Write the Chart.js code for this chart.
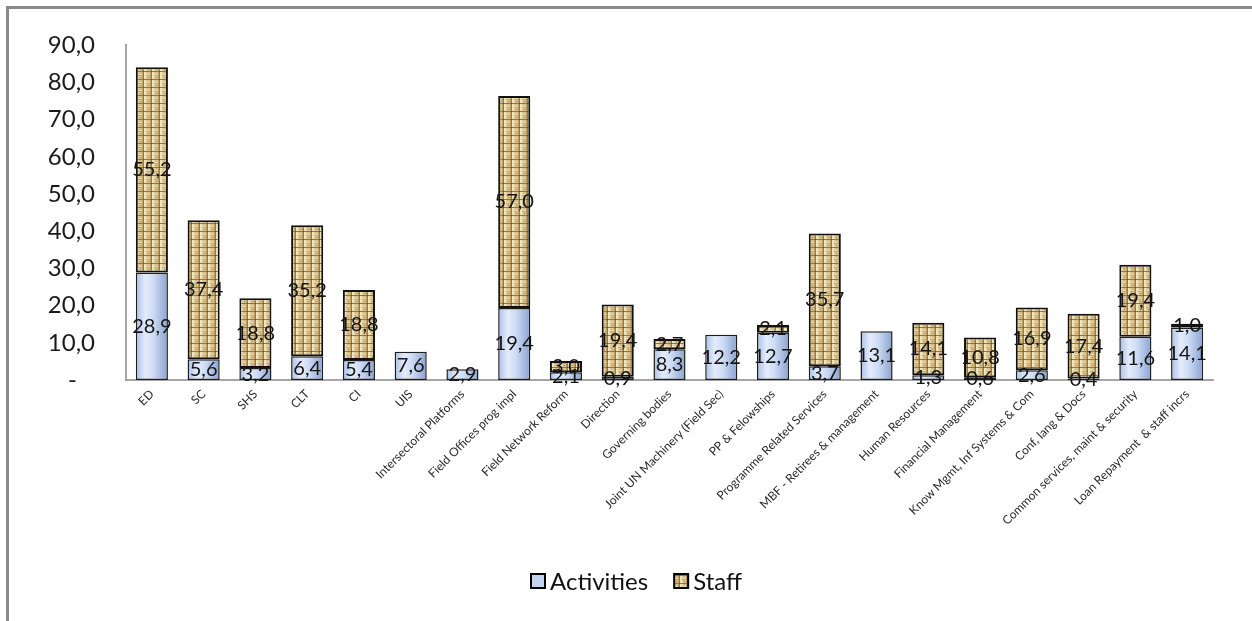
<!DOCTYPE html>
<html>
<head>
<meta charset="utf-8">
<script src="https://cdn.jsdelivr.net/npm/chart.js@4.4.1/dist/chart.umd.min.js"></script>
<style>
  html, body { margin: 0; padding: 0; background: #fff; }
  #wrap { position: relative; width: 1252px; height: 621px; }
</style>
</head>
<body>
<div id="wrap"><canvas id="chart" width="1252" height="621"></canvas></div>
<script>
// Budget by sector / service (millions), split into activities and staff costs
const categories = [
  'ED', 'SC', 'SHS', 'CLT', 'CI', 'UIS', 'Intersectoral Platforms',
  'Field Offices prog impl', 'Field Network Reform', 'Direction',
  'Governing bodies', 'Joint UN Machinery (Field Sec)', 'PP & Felowships',
  'Programme Related Services', 'MBF - Retirees & management',
  'Human Resources', 'Financial Management', 'Know Mgmt, Inf Systems & Com',
  'Conf, lang & Docs', 'Common services, maint & security',
  'Loan Repayment  & staff incrs'
];
const activities = [28.9, 5.6, 3.2, 6.4, 5.4, 7.6, 2.9, 19.4, 2.1, 0.9, 8.3, 12.2, 12.7, 3.7, 13.1, 1.3, 0.6, 2.6, 0.4, 11.6, 14.1];
const staff      = [55.2, 37.4, 18.8, 35.2, 18.8, null, null, 57.0, 3.0, 19.4, 2.7, null, 2.1, 35.7, null, 14.1, 10.8, 16.9, 17.4, 19.4, 1.0];
const yTicks = { min: 0, max: 90, step: 10 };

const FONT = 'Lato, "Open Sans", sans-serif';
const BAR_PCT = 0.62;

function fmt(v) { return v.toFixed(1).replace('.', ','); }

// Woven burlap tile used to fill the staff segments
function makeWeave() {
  const c = document.createElement('canvas');
  c.width = 8; c.height = 8;
  const g = c.getContext('2d');
  g.fillStyle = '#d8c18c'; g.fillRect(0, 0, 8, 8);
  g.fillStyle = '#efe3bb'; g.fillRect(0, 0, 2, 7);
  g.fillStyle = '#e4d3a2'; g.fillRect(2, 0, 1, 7);
  g.fillStyle = '#bc9d60'; g.fillRect(6, 0, 1, 7);
  g.fillStyle = '#9a7a44'; g.fillRect(7, 0, 1, 7);
  g.fillStyle = '#c8ab6e'; g.fillRect(2, 3, 4, 1);
  g.fillStyle = '#e9dbae'; g.fillRect(3, 2, 3, 1);
  g.fillStyle = '#947440'; g.fillRect(0, 7, 8, 1);
  g.fillStyle = '#6a4e24'; g.fillRect(7, 7, 1, 1);
  g.fillStyle = '#a5864b'; g.fillRect(4, 5, 1, 1);
  return g.createPattern(c, 'repeat');
}

const canvas = document.getElementById('chart');
const weave = makeWeave();

// Side-lit gradient for the activity segments, one per bar
function activityFill(ctx) {
  const chart = ctx.chart;
  if (!chart.chartArea || ctx.dataIndex === undefined || !chart.scales.x) return '#c5d5f0';
  const xs = chart.scales.x;
  const x = xs.getPixelForValue(ctx.dataIndex);
  const w = (xs.width / categories.length) * BAR_PCT;
  const g = chart.ctx.createLinearGradient(x - w / 2, 0, x + w / 2, 0);
  g.addColorStop(0, '#a9bfe8');
  g.addColorStop(0.3, '#e4ecfa');
  g.addColorStop(0.55, '#cddbf4');
  g.addColorStop(1, '#8aa2cf');
  return g;
}

// Outer frame of the chart
const framePlugin = {
  id: 'frame',
  beforeDraw(chart) {
    const c = chart.ctx;
    c.save();
    c.strokeStyle = '#8a8a8a';
    c.lineWidth = 3;
    c.beginPath();
    c.moveTo(7.5, chart.height);
    c.lineTo(7.5, 7.5);
    c.lineTo(chart.width, 7.5);
    c.stroke();
    c.restore();
  }
};

// Value labels centred in each stacked segment
const valueLabels = {
  id: 'valueLabels',
  afterDatasetsDraw(chart) {
    const c = chart.ctx;
    c.save();
    c.font = '20px ' + FONT;
    c.fillStyle = '#151515';
    c.textAlign = 'center';
    c.textBaseline = 'middle';
    chart.data.datasets.forEach((ds, di) => {
      const meta = chart.getDatasetMeta(di);
      meta.data.forEach((el, i) => {
        const v = ds.data[i];
        if (v === null || v === undefined) return;
        const p = el.getProps(['x', 'y', 'base'], true);
        c.fillText(fmt(v), p.x, (p.y + p.base) / 2);
      });
    });
    c.restore();
  }
};

// Compact legend below the axis labels: square swatch, small gap, label
const legendItems = [
  { text: 'Activities', fill: '#c3d3f1' },
  { text: 'Staff', fill: weave }
];
const compactLegend = {
  id: 'compactLegend',
  afterDraw(chart) {
    const c = chart.ctx;
    c.save();
    c.font = '24px ' + FONT;
    const box = 14, gap = 5, spacing = 26;
    const cy = chart.chartArea.bottom + 201;
    let x = chart.width / 2 - 95;
    legendItems.forEach((it) => {
      c.fillStyle = it.fill;
      c.fillRect(x, cy - box / 2, box, box);
      c.strokeStyle = '#000';
      c.lineWidth = 2;
      c.strokeRect(x, cy - box / 2, box, box);
      c.fillStyle = '#111';
      c.textAlign = 'left';
      c.textBaseline = 'middle';
      c.fillText(it.text, x + box + gap, cy + 1);
      x += box + gap + c.measureText(it.text).width + spacing;
    });
    c.restore();
  }
};

new Chart(canvas, {
  type: 'bar',
  data: {
    labels: categories,
    datasets: [
      {
        label: 'Activities',
        data: activities,
        backgroundColor: activityFill,
        borderColor: '#1e1e1e',
        borderWidth: 1.5,
        borderSkipped: false,
        barPercentage: BAR_PCT,
        categoryPercentage: 1
      },
      {
        label: 'Staff',
        data: staff,
        backgroundColor: weave,
        borderColor: '#111111',
        borderWidth: 2,
        borderSkipped: false,
        barPercentage: BAR_PCT,
        categoryPercentage: 1
      }
    ]
  },
  options: {
    responsive: false,
    animation: false,
    layout: { padding: { top: 45, right: 39, bottom: 64, left: 0 } },
    scales: {
      x: {
        stacked: true,
        grid: { display: false, drawTicks: false },
        border: { display: true, color: '#a6a6a6', width: 2 },
        ticks: {
          autoSkip: false,
          maxRotation: 45,
          minRotation: 45,
          padding: 7,
          color: '#2a2a2a',
          font: { family: FONT, size: 12 }
        },
        afterFit(scale) { scale.height = 177; }
      },
      y: {
        stacked: true,
        min: yTicks.min,
        max: yTicks.max,
        grid: { display: false, drawTicks: false },
        border: { display: true, color: '#a6a6a6', width: 2 },
        ticks: {
          stepSize: yTicks.step,
          padding: 31,
          color: '#1a1a1a',
          font: { family: FONT, size: 24 },
          callback: (v) => v === 0 ? '-\u2002 ' : fmt(v)
        },
        afterFit(scale) { scale.width = 126; }
      }
    },
    plugins: {
      tooltip: { enabled: false },
      legend: { display: false }
    }
  },
  plugins: [framePlugin, valueLabels, compactLegend]
});
</script>
</body>
</html>
